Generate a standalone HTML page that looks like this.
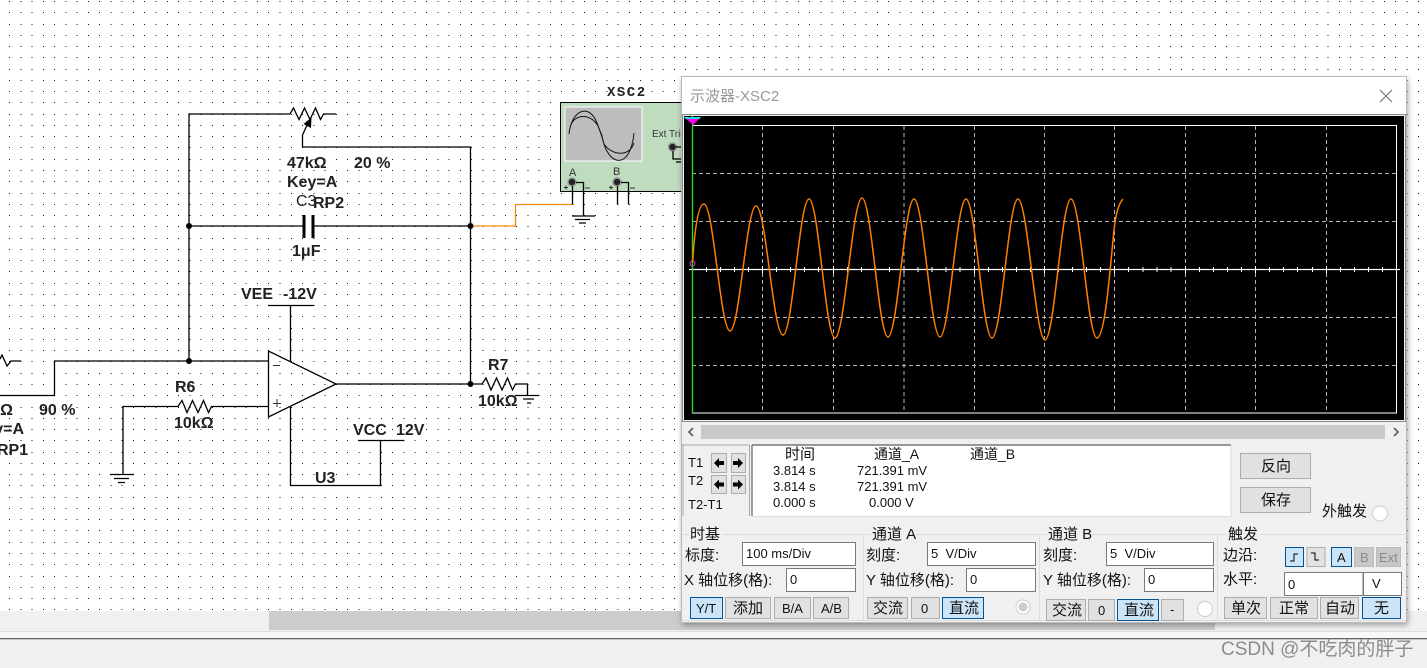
<!DOCTYPE html>
<html><head><meta charset="utf-8"><style>
html,body{margin:0;padding:0;background:#fff;width:1427px;height:668px;overflow:hidden}
svg{display:block;position:absolute;left:0;top:0}
text{white-space:pre}
.s{font-family:"Liberation Sans",sans-serif;font-weight:bold;font-size:16px;fill:#222}
.p{font-family:"Liberation Sans","Noto Sans CJK SC",sans-serif;font-size:15px;fill:#111}
.m{font-family:"Liberation Sans","Noto Sans CJK SC",sans-serif;font-size:13px;fill:#111}
.w{fill:none;stroke:#000;stroke-width:1.3}
.b{fill:#e1e1e1;stroke:#adadad;stroke-width:1}
.a{fill:#cce4f7;stroke:#005499;stroke-width:1}
.d{fill:#c8c8c8;stroke:#bcbcbc;stroke-width:1}
.i{fill:#fff;stroke:#7a7a7a;stroke-width:1}
.g{stroke:#b4b4b4;stroke-width:1;stroke-dasharray:4 3;fill:none}
.l{stroke:#dcdcdc;stroke-width:1;fill:none}
</style></head><body>
<svg width="1427" height="668" viewBox="0 0 1427 668" xmlns="http://www.w3.org/2000/svg">
<defs>
<filter id="sh" x="-3%" y="-3%" width="106%" height="106%"><feDropShadow dx="1" dy="2" stdDeviation="3" flood-color="#000" flood-opacity=".35"/></filter>
</defs>
<rect width="1427" height="668" fill="#fff"/>
<path shape-rendering="crispEdges" fill="none" stroke="#111" stroke-width="1" stroke-dasharray="1 10.27" d="M9 1.500H1427M9 12.500H1427M9 24.500H1427M9 35.500H1427M9 46.500H1427M9 57.500H1427M9 69.500H1427M9 80.500H1427M9 91.500H1427M9 102.500H1427M9 114.500H1427M9 125.500H1427M9 136.500H1427M9 147.500H1427M9 159.500H1427M9 170.500H1427M9 181.500H1427M9 193.500H1427M9 204.500H1427M9 215.500H1427M9 226.500H1427M9 238.500H1427M9 249.500H1427M9 260.500H1427M9 271.500H1427M9 283.500H1427M9 294.500H1427M9 305.500H1427M9 316.500H1427M9 328.500H1427M9 339.500H1427M9 350.500H1427M9 361.500H1427M9 373.500H1427M9 384.500H1427M9 395.500H1427M9 407.500H1427M9 418.500H1427M9 429.500H1427M9 440.500H1427M9 452.500H1427M9 463.500H1427M9 474.500H1427M9 485.500H1427M9 497.500H1427M9 508.500H1427M9 519.500H1427M9 530.500H1427M9 542.500H1427M9 553.500H1427M9 564.500H1427M9 576.500H1427M9 587.500H1427M9 598.500H1427M9 609.500H1427"/>
<rect y="611" width="1427" height="20" fill="#f0f0f0"/>
<rect x="269" y="611" width="946" height="19" fill="#ccc"/>
<rect y="631" width="1427" height="1" fill="#dedede"/>
<rect y="632" width="1427" height="6" fill="#f8f8f8"/>
<rect y="638" width="1427" height="1.4" fill="#666"/>
<rect y="639.4" width="1427" height="29" fill="#f0f0f0"/>

<!-- schematic -->
<path class="w" d="M189 361V114H290l3.500-6 5.500 11.500 5.500-11.500 5.500 11.500 5.500-11.500 5 11.500 3-5.500H336"/>
<path d="M302.500 147V135L308 123" class="w"/><path d="M311.500 117.500L303.500 124L311 128z" fill="#000"/>
<path class="w" d="M302.500 147H470.500V384"/>
<path class="w" d="M189 226H304M313 226H470.500"/>
<path d="M304 215V238M313 215V238" stroke="#000" stroke-width="3" fill="none"/>
<path d="M470.500 226H515.500V204.500H572.500" fill="none" stroke="#f58a0b" stroke-width="1.300"/>
<circle cx="189" cy="226" r="3" fill="#000"/><circle cx="470.500" cy="226" r="3" fill="#000"/>
<circle cx="189" cy="361" r="3" fill="#000"/><circle cx="470.500" cy="384" r="3" fill="#000"/>
<path class="w" d="M0 359l2-4 5 11 4-5H21"/>
<path class="w" d="M0 395.500H54.500V361H268"/>
<path class="w" d="M123 474V406.500H178l4-6 5 12 5.500-12 5.500 12 5.500-12 5 12 3-6H268"/>
<path class="w" d="M110 474.500H134M114 478.500H129M118 482.500H125"/>
<path d="M268.500 351V417L336 384z" fill="#fff" fill-opacity="0" stroke="#000" stroke-width="1.300"/>
<path d="M273 365.500H280M273 403.500H281M277 399V407" stroke="#333" stroke-width="1" fill="none"/>
<path class="w" d="M336 384H482l4-6 5 12 5.500-12 5.500 12 5.500-12 5 12 3-6H527.500V395M515 395.500H539M523 399H534M527 403H531"/>
<path class="w" d="M268 305.500H314M290.500 305.500V361M290.500 407V485.500H380.500V440.500M358 440.500H404"/>
<text class="s" x="241" y="299">VEE</text><text class="s" x="283" y="299">-12V</text>
<text class="s" x="353" y="435">VCC</text><text class="s" x="396" y="435">12V</text>
<text class="s" x="315" y="483">U3</text>
<text class="s" x="488" y="370">R7</text><text class="s" x="478" y="406">10kΩ</text>
<text class="s" x="175" y="392">R6</text><text class="s" x="174" y="428">10kΩ</text>
<text class="s" x="287" y="168">47kΩ</text><text class="s" x="354" y="168">20 %</text>
<text class="s" x="287" y="187">Key=A</text>
<text class="s" x="296" y="206" style="font-weight:normal">C3</text><text class="s" x="313" y="208">RP2</text>
<text class="s" x="292" y="256">1μF</text>
<text class="s" x="39" y="415">90 %</text><text class="s" x="13" y="415" text-anchor="end">Ω</text><text class="s" x="24" y="434" text-anchor="end">y=A</text><text class="s" x="-3" y="455">RP1</text>

<!-- XSC2 symbol -->
<text x="607" y="96" style="font-family:'Liberation Mono',monospace;font-weight:bold;font-size:14px;letter-spacing:1.500px;fill:#222">XSC2</text>
<rect x="560.500" y="102.500" width="130" height="89" fill="#bfdcbf" stroke="#000" stroke-width="1"/>
<rect x="565" y="107" width="77" height="54" fill="#bdbdbd" stroke="#fff" stroke-width="1"/>
<path d="M569 134C572 108 590 104 597 123 600 131 601 133 602 136 607 166 630 172 634 133M571 125C574 115 590 112 598 126 602 136 603 140 604 144 611 155 629 158 634 143" fill="none" stroke="#111" stroke-width="1"/>
<text x="652" y="137" style="font-family:'Liberation Sans',sans-serif;font-size:10px;fill:#333">Ext Trig</text>
<circle cx="672.500" cy="147" r="4" fill="#222" stroke="#999" stroke-width="1.500"/>
<path class="w" d="M673 151V159H685M676 147H684M676 162H684"/>
<text x="569" y="176" style="font-family:'Liberation Sans',sans-serif;font-size:11px;fill:#333">A</text>
<text x="613" y="175" style="font-family:'Liberation Sans',sans-serif;font-size:11px;fill:#333">B</text>
<circle cx="572" cy="182" r="4" fill="#222" stroke="#999" stroke-width="1.500"/>
<circle cx="617" cy="182" r="4" fill="#222" stroke="#999" stroke-width="1.500"/>
<path class="w" d="M572.500 186V204M576 182.500H583.500V215.500M617.500 186V204.500M621 182.500H628.500V204.500M572 216H595M575 219.500H590M579 223H586"/>
<path d="M564 187.500H568M566 185.500V189.500M609 187.500H613M611 185.500V189.500M585 188H590M630 188H635" stroke="#333" stroke-width="1"/>

<!-- window -->
<g filter="url(#sh)"><rect x="681" y="77" width="726" height="546" fill="#f0f0f0"/></g>
<rect x="681" y="77" width="726" height="546" fill="#f0f0f0"/>
<rect x="681" y="77" width="726" height="37" fill="#fff"/>
<rect x="681.500" y="76.500" width="725" height="546" fill="none" stroke="#bbb"/>
<text x="690" y="101" style="font-family:'Liberation Sans','Noto Sans CJK SC',sans-serif;font-size:15px;fill:#999">示波器-XSC2</text>
<path d="M1380 90L1392 102M1392 90L1380 102" stroke="#777" stroke-width="1.200"/>

<!-- scope -->
<rect x="682.500" y="114.500" width="723" height="307" fill="#f0f0f0" stroke="#888" stroke-width="1"/>
<rect x="684" y="116" width="720" height="304" fill="#000"/>
<path class="g" d="M762.500 126V413M833.500 126V413M904 126V413M974.500 126V413M1044.500 126V413M1114.500 126V413M1185.500 126V413M1255.500 126V413M1326.500 126V413"/>
<path class="g" d="M692 173.500H1396M692 221.500H1396M692 317.500H1396M692 365.500H1396"/>
<rect x="692.500" y="125.500" width="704" height="287.500" fill="none" stroke="#fff" stroke-width="1"/>
<path d="M689 269.500H1400" stroke="#fff" stroke-width="1.300"/>
<path d="M706.500 267V272M720.500 267V272M734.500 267V272M748.500 267V272M762.500 266V273M776.500 267V272M790.500 267V272M804.500 267V272M818.500 267V272M833.500 266V273M847.500 267V272M861.500 267V272M875.500 267V272M889.500 267V272M904 266V273M918 267V272M932 267V272M946 267V272M960 267V272M974.500 266V273M988.500 267V272M1002.500 267V272M1016.500 267V272M1030.500 267V272M1044.500 266V273M1058.500 267V272M1072.500 267V272M1086.500 267V272M1100.500 267V272M1114.500 266V273M1128.500 267V272M1143 267V272M1157 267V272M1171 267V272M1185.500 266V273M1199.500 267V272M1213.500 267V272M1227.500 267V272M1241.500 267V272M1255.500 266V273M1269.500 267V272M1283.500 267V272M1297.500 267V272M1312.500 267V272M1326.500 266V273M1340.500 267V272M1354.500 267V272M1368.500 267V272M1382.500 267V272" stroke="#fff" stroke-width="1" fill="none"/>
<path d="M692.500 116V413" stroke="#22e022" stroke-width="1.400"/>
<path d="M684 117H701L693 125z" fill="#ff00e6"/><path d="M684 117H701L699.500 119H685.500z" fill="#25d5e5"/>
<circle cx="692.500" cy="263.500" r="2.500" fill="none" stroke="#e040e0" stroke-width="1"/>
<path d="M692.500 262L694 244C696 222 699 204 704 204C713.500 204 720.500 331 730 331C739.500 331 746.500 206 756 206C766 206 773 335 783 335C792.500 335 799.500 199 809 199C818.500 199 825.500 338 835 338C844.500 338 852.500 198 862 198C871.500 198 878.500 337 888 337C897.500 337 904.500 199 914 199C923.500 199 930.500 337 940 337C949.500 337 956.500 199 966 199C975.500 199 982.500 338 992 338C1001.500 338 1008.500 199 1018 199C1027.500 199 1035.500 340 1045 340C1054.500 340 1061.500 199 1071 199C1080.500 199 1087.500 338 1097 338C1105 338 1110 270 1114 230C1116 212 1119 203 1123 199" fill="none" stroke="#ff8000" stroke-width="1.500"/>

<!-- horizontal scrollbar -->
<rect x="701" y="425" width="684" height="14" fill="#c9c9c9"/>
<path d="M693 428l-4 4 4 4M1394 428l4 4-4 4" fill="none" stroke="#666" stroke-width="1.800"/>

<!-- readout -->
<path d="M682 445H749.500M683 444V516M749.500 445V516" stroke="#aaa" stroke-width="1" fill="none"/>
<rect x="752" y="445" width="479" height="71" fill="#fff"/>
<path d="M752 445V516M752 445H1231" stroke="#777" stroke-width="1.400" fill="none"/>
<path d="M1231 445V516.500H752" stroke="#ddd" fill="none"/>
<text class="m" x="688" y="467">T1</text><text class="m" x="688" y="485">T2</text><text class="m" x="688" y="509">T2-T1</text>
<rect class="b" x="711.500" y="453.500" width="15" height="19"/><rect class="b" x="731.500" y="453.500" width="14" height="19"/>
<rect class="b" x="711.500" y="475.500" width="15" height="18"/><rect class="b" x="731.500" y="475.500" width="14" height="18"/>
<path d="M714 463l5-5v3h5v4h-5v3zM743 463l-5-5v3h-5v4h5v3zM714 484.500l5-5v3h5v4h-5v3zM743 484.500l-5-5v3h-5v4h5v3z" fill="#000"/>
<text x="785" y="459" class="p">时间</text><text x="874" y="459" class="m" style="font-size:14px">通道_A</text><text x="970" y="459" class="m" style="font-size:14px">通道_B</text>
<text class="m" x="773" y="475">3.814 s</text><text class="m" x="857" y="475">721.391 mV</text>
<text class="m" x="773" y="491">3.814 s</text><text class="m" x="857" y="491">721.391 mV</text>
<text class="m" x="773" y="507">0.000 s</text><text class="m" x="869" y="507">0.000 V</text>
<rect class="b" x="1240.500" y="453.500" width="70" height="25"/><text class="p" x="1261" y="471">反向</text>
<rect class="b" x="1240.500" y="487.500" width="70" height="25"/><text class="p" x="1261" y="505">保存</text>
<text class="p" x="1322" y="516">外触发</text><circle cx="1380" cy="513.500" r="7.500" fill="#fff" stroke="#ccc"/>

<!-- groups -->
<path class="l" d="M682 534.500H689M722 534.500H871M916 534.500H1047M1092 534.500H1226M1260 534.500H1407M863.500 535V620M1039.500 535V620M1217.500 535V620M682 620.500H1406"/>
<text class="p" x="690" y="539">时基</text><text class="p" x="872" y="539">通道 A</text><text class="p" x="1048" y="539">通道 B</text><text class="p" x="1228" y="539">触发</text>

<text class="p" x="685" y="560">标度:</text><rect class="i" x="742.500" y="542.500" width="113" height="23"/><text class="m" x="746" y="558">100 ms/Div</text>
<text class="p" x="684" y="585">X 轴位移(格):</text><rect class="i" x="786.500" y="568.500" width="69" height="23"/><text class="m" x="790" y="584">0</text>
<rect class="a" x="690.500" y="597.500" width="32" height="21"/><text class="m" x="696" y="613">Y/T</text>
<rect class="b" x="725.500" y="597.500" width="45" height="21"/><text class="p" x="733" y="613">添加</text>
<rect class="b" x="774.500" y="597.500" width="36" height="21"/><text class="m" x="782" y="613">B/A</text>
<rect class="b" x="813.500" y="597.500" width="35" height="21"/><text class="m" x="821" y="613">A/B</text>

<text class="p" x="866" y="560">刻度:</text><rect class="i" x="927.500" y="542.500" width="108" height="23"/><text class="m" x="931" y="558">5  V/Div</text>
<text class="p" x="866" y="585">Y 轴位移(格):</text><rect class="i" x="966.500" y="568.500" width="69" height="23"/><text class="m" x="970" y="584">0</text>
<rect class="b" x="867.500" y="597.500" width="40" height="21"/><text class="p" x="873" y="613">交流</text>
<rect class="b" x="911.500" y="597.500" width="28" height="21"/><text class="m" x="921" y="613">0</text>
<rect class="a" x="942.500" y="597.500" width="41" height="21"/><text class="p" x="949" y="613">直流</text>
<circle cx="1023" cy="607" r="7" fill="#fff" stroke="#ccc"/><circle cx="1023" cy="607" r="4.500" fill="#ccc"/>

<text class="p" x="1043" y="560">刻度:</text><rect class="i" x="1106.500" y="542.500" width="107" height="23"/><text class="m" x="1110" y="558">5  V/Div</text>
<text class="p" x="1043" y="585">Y 轴位移(格):</text><rect class="i" x="1144.500" y="568.500" width="69" height="23"/><text class="m" x="1148" y="584">0</text>
<rect class="b" x="1046.500" y="599.500" width="39" height="21"/><text class="p" x="1052" y="615">交流</text>
<rect class="b" x="1088.500" y="599.500" width="26" height="21"/><text class="m" x="1098" y="615">0</text>
<rect class="a" x="1117.500" y="599.500" width="41" height="21"/><text class="p" x="1124" y="615">直流</text>
<rect class="b" x="1161.500" y="599.500" width="22" height="21"/><text class="m" x="1170" y="614">-</text>
<circle cx="1205" cy="609" r="7.500" fill="#fff" stroke="#ccc"/>

<text class="p" x="1223" y="560">边沿:</text><text class="p" x="1223" y="584">水平:</text>
<rect class="a" x="1285.500" y="547.500" width="18" height="19"/><rect class="b" x="1307" y="547.500" width="18" height="19"/>
<path d="M1290 561h4v-7h4M1311 553h4v7h4" fill="none" stroke="#000" stroke-width="1"/>
<rect class="a" x="1331.500" y="547.500" width="20" height="19"/><text class="m" x="1337" y="562">A</text>
<rect class="d" x="1354.500" y="547.500" width="19" height="19"/><text class="m" x="1360" y="562" style="fill:#8a8a8a">B</text>
<rect class="d" x="1376.500" y="547.500" width="24" height="19"/><text class="m" x="1379" y="562" style="fill:#8a8a8a">Ext</text>
<rect class="i" x="1284.500" y="572.500" width="78.500" height="23"/><text class="m" x="1288" y="589">0</text>
<rect class="i" x="1363.500" y="572.500" width="38" height="23"/><text class="m" x="1372" y="588">V</text>
<rect class="b" x="1224.500" y="597.500" width="42" height="21"/><text class="p" x="1231" y="613">单次</text>
<rect class="b" x="1270.500" y="597.500" width="47" height="21"/><text class="p" x="1279" y="613">正常</text>
<rect class="b" x="1320.500" y="597.500" width="38" height="21"/><text class="p" x="1325" y="613">自动</text>
<rect class="a" x="1362.500" y="597.500" width="38" height="21"/><text class="p" x="1374" y="613">无</text>

<text x="1221" y="655" style="font-family:'Liberation Sans','Noto Sans CJK SC',sans-serif;font-size:19px;fill:#8c8c8c">CSDN @不吃肉的胖子</text>
</svg>
</body></html>
